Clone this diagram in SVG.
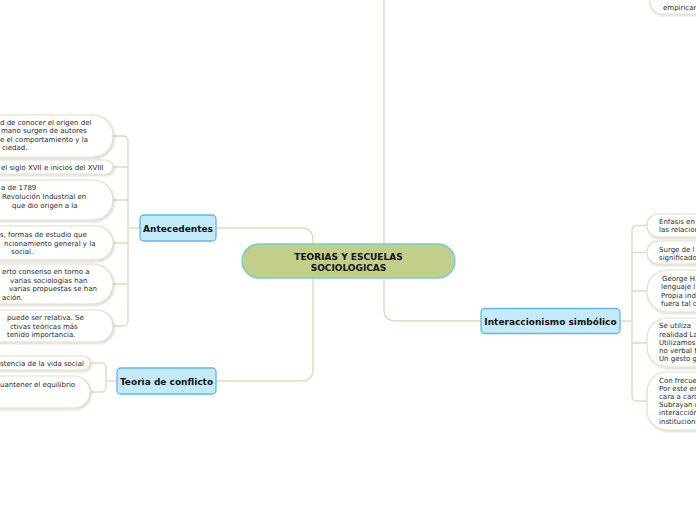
<svg xmlns="http://www.w3.org/2000/svg" width="696" height="520" viewBox="0 0 696 520">
<defs>
<filter id="sh" x="-20%" y="-20%" width="140%" height="160%">
<feDropShadow dx="1" dy="1.2" stdDeviation="1" flood-color="#000" flood-opacity="0.18"/>
</filter>
<style>
.c{fill:none;stroke:#e3d9bd;stroke-width:1.4}
.box{fill:#fff;stroke:#e6ddc4;stroke-width:1.2;filter:url(#sh)}
.t{font-family:"DejaVu Sans",Verdana,sans-serif;font-size:7px;fill:#2a2a2a}
.main{fill:#c2cf8a;stroke:#6fcfcc;stroke-width:1.3}
.sub{fill:#c4eafb;stroke:#5bb9e8;stroke-width:1.3}
.lbl{font-family:"DejaVu Sans",Verdana,sans-serif;font-size:9px;font-weight:bold;fill:#111;text-anchor:middle}
</style>
</defs>
<rect width="696" height="520" fill="#fff"/>
<g id="connectors">
<path class="c" d="M216,228 H301 Q313,228 313,240 V369 Q313,381 301,381 H216"/>
<path class="c" d="M384,0 V309 Q384,321 396,321 H481"/>
<path class="c" d="M620,321 H632"/>
<path class="c" d="M647,225.5 H637 Q632,225.5 632,230.5 V396 Q632,401 637,401 H647"/>
<path class="c" d="M632,252.5 H647 M632,291 H647 M632,343 H647"/>
<path class="c" d="M140,228 H128"/>
<path class="c" d="M113,136 H123 Q128,136 128,141 V321 Q128,326 123,326 H113"/>
<path class="c" d="M113,167 H128 M113,200 H128 M113,243 H128 M113,284 H128"/>
<path class="c" d="M117,381 H106"/>
<path class="c" d="M90,363 H101 Q106,363 106,368 V387 Q106,392 101,392 H90"/>
</g>
<g id="top-right">
<rect class="box" x="650" y="-30" width="80" height="44" rx="12"/>
<text class="t" x="663" y="10">empiricar</text>
</g>
<g id="center">
<rect class="main" x="242" y="244" width="213" height="34" rx="17"/>
<text class="lbl" x="348.5" y="260">TEORIAS Y ESCUELAS</text>
<text class="lbl" x="348.5" y="271">SOCIOLOGICAS</text>
</g>
<g id="antecedentes">
<rect class="sub" x="140" y="215" width="76" height="26" rx="4"/>
<text class="lbl" x="178" y="231.5">Antecedentes</text>
</g>
<g id="teoria-conflicto">
<rect class="sub" x="117" y="368" width="99" height="26" rx="4"/>
<text class="lbl" x="166.5" y="384.5">Teorìa de conflicto</text>
</g>
<g id="interaccionismo">
<rect class="sub" x="481" y="308.5" width="139" height="25" rx="4"/>
<text class="lbl" x="550.5" y="324.5">Interaccionismo simbólico</text>
</g>
<g id="a1">
<rect class="box" x="-40" y="115" width="153" height="42" rx="20"/>
<text class="t" x="0" y="125">d de conocer el origen del</text>
<text class="t" x="1" y="133">mano surgen de autores</text>
<text class="t" x="0" y="141.5">e el comportamiento y la</text>
<text class="t" x="2" y="150">ciedad.</text>
</g>
<g id="a2">
<rect class="box" x="-40" y="160" width="153" height="14" rx="7"/>
<text class="t" x="1" y="169.5">el siglo XVII e inicios del XVIII</text>
</g>
<g id="a3">
<rect class="box" x="-40" y="180" width="153" height="40" rx="20"/>
<text class="t" x="1" y="190">a de 1789</text>
<text class="t" x="2" y="199">Revolución Industrial en</text>
<text class="t" x="12" y="207.5">que dio origen a la</text>
</g>
<g id="a4">
<rect class="box" x="-40" y="226" width="153" height="34" rx="17"/>
<text class="t" x="0" y="237">s, formas de estudio que</text>
<text class="t" x="4" y="245.5">ncionamiento general y la</text>
<text class="t" x="11" y="254">social.</text>
</g>
<g id="a5">
<rect class="box" x="-40" y="264" width="153" height="40" rx="20"/>
<text class="t" x="2" y="274">erto consenso en torno a</text>
<text class="t" x="10" y="282.5">varias sociologías han</text>
<text class="t" x="9" y="291">varias propuestas se han</text>
<text class="t" x="2" y="299.5">ación.</text>
</g>
<g id="a6">
<rect class="box" x="-40" y="310" width="153" height="32" rx="16"/>
<text class="t" x="7" y="320">puede ser relativa. Se</text>
<text class="t" x="10" y="328.5">ctivas teóricas más</text>
<text class="t" x="7" y="337">tenido importancia.</text>
</g>
<g id="c1">
<rect class="box" x="-40" y="356" width="130" height="14" rx="7"/>
<text class="t" x="0" y="365.5">stencia de la vida social</text>
</g>
<g id="c2">
<rect class="box" x="-40" y="376" width="130" height="32" rx="16"/>
<text class="t" x="0" y="387">uantener el equilibrio</text>
</g>
<g id="i1">
<rect class="box" x="647" y="214" width="80" height="23" rx="11"/>
<text class="t" x="659" y="223.5">Énfasis en</text>
<text class="t" x="659" y="231.5">las relacion</text>
</g>
<g id="i2">
<rect class="box" x="647" y="241" width="80" height="23" rx="11"/>
<text class="t" x="659" y="251.5">Surge  de l</text>
<text class="t" x="659" y="259.5">significado</text>
</g>
<g id="i3">
<rect class="box" x="647" y="270" width="80" height="42" rx="20"/>
<text class="t" x="662" y="281">George H.</text>
<text class="t" x="661" y="289">lenguaje l</text>
<text class="t" x="661" y="297.5">Propia ind</text>
<text class="t" x="661" y="305.5">fuera tal c</text>
</g>
<g id="i4">
<rect class="box" x="647" y="318" width="80" height="49" rx="20"/>
<text class="t" x="659" y="328">Se utiliza</text>
<text class="t" x="659" y="336.5">realidad La</text>
<text class="t" x="659" y="344.5">Utilizamos</text>
<text class="t" x="659" y="353">no verbal f</text>
<text class="t" x="659" y="361">Un gesto g</text>
</g>
<g id="i5">
<rect class="box" x="647" y="372" width="80" height="58" rx="20"/>
<text class="t" x="659" y="383">Con frecue</text>
<text class="t" x="659" y="391">Por este er</text>
<text class="t" x="659" y="399">cara a card</text>
<text class="t" x="659" y="407">Subrayan c</text>
<text class="t" x="659" y="415">interacción</text>
<text class="t" x="659" y="423.5">institucione</text>
</g>
</svg>
